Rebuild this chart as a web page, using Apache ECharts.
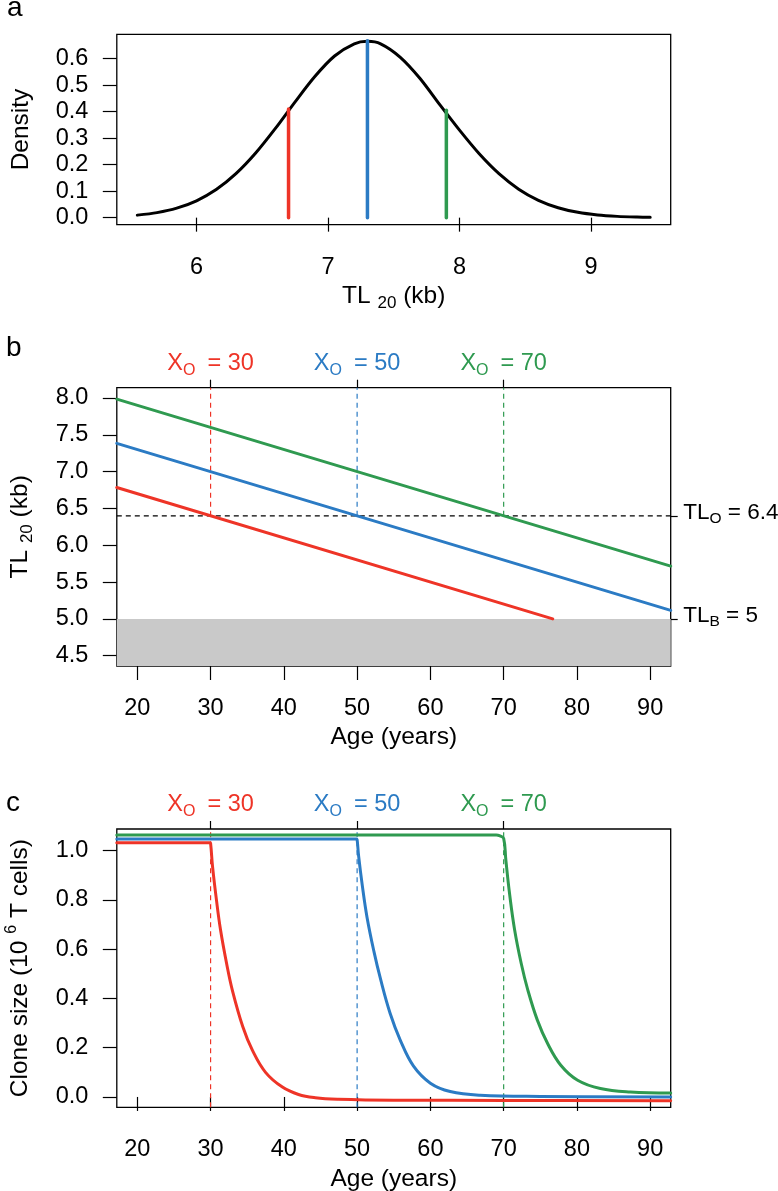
<!DOCTYPE html>
<html><head><meta charset="utf-8">
<script src="https://cdn.jsdelivr.net/npm/echarts@6/dist/echarts.min.js"></script>
<style>html,body{margin:0;padding:0;background:#fff}#c{width:778px;height:1191px}</style>
</head><body><div id="c"></div>
<script>
// ---------- data ----------
// panel a: density of TL20
const densityX = [5.55, 5.70, 5.85, 6.00, 6.15, 6.30, 6.45, 6.60, 6.75, 6.90, 7.05, 7.20, 7.30, 7.40, 7.55, 7.70, 7.85, 8.00, 8.15, 8.30, 8.45, 8.60, 8.75, 8.90, 9.05, 9.20, 9.35, 9.45];
const densityY = [0.0095, 0.0190, 0.0358, 0.0636, 0.1059, 0.1658, 0.2438, 0.3366, 0.4369, 0.5324, 0.6097, 0.6557, 0.6650, 0.6558, 0.6050, 0.5250, 0.4260, 0.3300, 0.2410, 0.1660, 0.1075, 0.0655, 0.0375, 0.0200, 0.0100, 0.0048, 0.0021, 0.0011];
const markerX = [6.7, 7.3, 7.9];
const markerTop = [0.41, 0.667, 0.405];
const densityXTicks = [6, 7, 8, 9];
const densityYTicks = [0, 0.1, 0.2, 0.3, 0.4, 0.5, 0.6];

// panel b: TL20 vs age
const tlRedAge = [17.2, 76.7];   const tlRed = [6.784, 5.0];
const tlBlueAge = [17.2, 92.8];  const tlBlue = [7.384, 5.116];
const tlGreenAge = [17.2, 92.8]; const tlGreen = [7.984, 5.716];
const onsetAges = [30, 50, 70];
const TLO = 6.4;
const TLB = 5;
const ageTicks = [20, 30, 40, 50, 60, 70, 80, 90];
const tlTicks = [4.5, 5.0, 5.5, 6.0, 6.5, 7.0, 7.5, 8.0];
const rightTickValues = [5, 6.4];
const rightTickSubs = ['B', 'O'];

// panel c: clone size vs age
const cloneRedAge  = [17.2, 29.9, 30.0, 30.27, 30.8, 31.35, 32.2, 33.0, 34.4, 35.7, 37.5, 39.8, 42.0, 44.3, 47.4, 55, 70, 92.8];
const cloneRed     = [1.032, 1.032, 1.030, 0.935, 0.800, 0.680, 0.540, 0.430, 0.285, 0.190, 0.100, 0.040, 0.010, -0.003, -0.009, -0.013, -0.014, -0.015];
const cloneBlueAge = [17.2, 49.9, 50.0, 50.2, 50.7, 51.35, 52.3, 53.2, 54.5, 55.9, 57.7, 60, 62.7, 66.8, 75, 92.8];
const cloneBlue    = [1.047, 1.047, 1.045, 0.980, 0.860, 0.730, 0.590, 0.478, 0.340, 0.230, 0.125, 0.056, 0.022, 0.007, 0.002, 0.000];
const cloneGreenAge = [17.2, 69.0, 69.5, 70.0, 70.3, 70.8, 71.5, 72.4, 73.3, 74.6, 76.0, 77.8, 80.1, 83.2, 87.3, 92.8];
const cloneGreen    = [1.064, 1.064, 1.060, 1.050, 0.962, 0.827, 0.678, 0.542, 0.434, 0.312, 0.217, 0.129, 0.068, 0.034, 0.020, 0.016];
const cloneTicks = [0, 0.2, 0.4, 0.6, 0.8, 1.0];

// ---------- styling ----------
const FONT = "'Liberation Sans', Arial, Helvetica, sans-serif";
const RED = '#ee3427', BLUE = '#2b7bc4', GREEN = '#2f9a50';
const COLS = [RED, BLUE, GREEN];
const KEYS = ['r', 'b', 'g'];
const TICKFS = 23.5, TITLEFS = 24.5;

// axis ranges (R style 4% extension)
const dMin = 5.394, dMax = 9.606, dyMin = -0.0266, dyMax = 0.6916;
const ageMin = 17.2, ageMax = 92.8;
const tlMin = 4.36, tlMax = 8.14;
const cMin = -0.042, cMax = 1.088;

const L = 116.8, W = 553.9;
const TICK = {color: '#000', width: 1.2};

const richTitle = {
  m: {fontSize: TITLEFS, lineHeight: 32, verticalAlign: 'middle', fontFamily: FONT, color: '#000'},
  s: {fontSize: 17, lineHeight: 17, verticalAlign: 'bottom', fontFamily: FONT, color: '#000'},
  p: {fontSize: 16, lineHeight: 16, verticalAlign: 'top', fontFamily: FONT, color: '#000'}
};
const nameStyle = {fontSize: TITLEFS, lineHeight: 32, color: '#000', fontFamily: FONT, rich: richTitle};

const richTop = {};
KEYS.forEach((k, i) => {
  richTop[k] = {color: COLS[i], fontSize: 23.5, lineHeight: 30, verticalAlign: 'middle', fontFamily: FONT};
  richTop[k + 's'] = {color: COLS[i], fontSize: 16, lineHeight: 16, verticalAlign: 'bottom', fontFamily: FONT, padding: [0, 12, 0, 0]};
});
const richRight = {
  m: {color: '#000', fontSize: 22.5, lineHeight: 28, verticalAlign: 'middle', fontFamily: FONT},
  s: {color: '#000', fontSize: 15.5, lineHeight: 15.5, verticalAlign: 'bottom', fontFamily: FONT}
};

function bottomX(gi, min, max, ticks, name, gap) {
  return {
    gridIndex: gi, type: 'value', min: min, max: max, position: 'bottom',
    axisLine: {show: false}, splitLine: {show: false},
    axisTick: {show: true, length: 14, lineStyle: TICK, customValues: ticks},
    axisLabel: {customValues: ticks, margin: 30.5, fontSize: TICKFS, color: '#000', fontFamily: FONT, formatter: v => String(v)},
    name: name, nameLocation: 'middle', nameGap: gap, nameTextStyle: nameStyle
  };
}
function topX(gi) {
  return {
    gridIndex: gi, type: 'value', min: ageMin, max: ageMax, position: 'top',
    axisLine: {show: false}, splitLine: {show: false},
    axisTick: {show: true, length: 8, lineStyle: TICK, customValues: onsetAges},
    axisLabel: {customValues: onsetAges, margin: 9, fontFamily: FONT, rich: richTop,
      formatter: v => { const k = KEYS[onsetAges.indexOf(v)]; return '{' + k + '|X}{' + k + 's|O}{' + k + '|= ' + v + '}'; }}
  };
}
function leftY(gi, min, max, ticks, name, gap) {
  return {
    gridIndex: gi, type: 'value', min: min, max: max, position: 'left',
    axisLine: {show: false}, splitLine: {show: false},
    axisTick: {show: true, length: 14, lineStyle: TICK, customValues: ticks},
    axisLabel: {customValues: ticks, margin: 28.5, fontSize: TICKFS, color: '#000', fontFamily: FONT, formatter: v => v.toFixed(1)},
    name: name, nameLocation: 'middle', nameRotate: 90, nameGap: gap, nameTextStyle: nameStyle
  };
}
function pts(xs, ys) { return xs.map((x, i) => [x, ys[i]]); }
function line(xi, yi, data, color, width, extra) {
  return Object.assign({
    type: 'line', xAxisIndex: xi, yAxisIndex: yi, data: data, symbol: 'none', showSymbol: false,
    lineStyle: {color: color, width: width, cap: 'round', join: 'round'}, silent: true, z: 3
  }, extra || {});
}
function dashed(xi, yi, data, color) {
  return {
    type: 'line', xAxisIndex: xi, yAxisIndex: yi, data: data, symbol: 'none', showSymbol: false, silent: true, z: 2,
    lineStyle: {color: color, width: 1.2, type: [5, 4]}
  };
}

const series = [];
// panel a
series.push(line(0, 0, pts(densityX, densityY), '#000', 3, {smooth: 0.3}));
markerX.forEach((x, i) => series.push(line(0, 0, [[x, 0], [x, markerTop[i]]], COLS[i], 3.5)));
// panel b
series.push({
  type: 'line', xAxisIndex: 1, yAxisIndex: 1, data: [], silent: true, z: 1,
  markArea: {silent: true, itemStyle: {color: '#c9c9c9'}, data: [[{yAxis: tlMin}, {yAxis: TLB}]]}
});
series.push(dashed(1, 1, [[ageMin, TLO], [ageMax, TLO]], '#000'));
onsetAges.forEach((a, i) => series.push(dashed(1, 1, [[a, TLO], [a, tlMax]], COLS[i])));
series.push(line(1, 1, pts(tlRedAge, tlRed), RED, 3));
series.push(line(1, 1, pts(tlBlueAge, tlBlue), BLUE, 3));
series.push(line(1, 1, pts(tlGreenAge, tlGreen), GREEN, 3));
// panel c
onsetAges.forEach((a, i) => series.push(dashed(3, 3, [[a, cMin], [a, cMax]], COLS[i])));
series.push(line(3, 3, pts(cloneGreenAge, cloneGreen), GREEN, 3, {smooth: 0.4}));
series.push(line(3, 3, pts(cloneBlueAge, cloneBlue), BLUE, 3, {smooth: 0.4}));
series.push(line(3, 3, pts(cloneRedAge, cloneRed), RED, 3, {smooth: 0.4}));

const gridBase = {show: true, borderColor: '#000', borderWidth: 1.3, backgroundColor: 'transparent', containLabel: false, outerBoundsMode: 'none'};

const option = {
  animation: false,
  backgroundColor: '#fff',
  grid: [
    Object.assign({left: L, top: 34.3, width: W, height: 190.4}, gridBase),
    Object.assign({left: L, top: 387.7, width: W, height: 278.3}, gridBase),
    Object.assign({left: L, top: 829, width: W, height: 278.3}, gridBase)
  ],
  xAxis: [
    bottomX(0, dMin, dMax, densityXTicks, '{m|TL }{s|20}{m| (kb)}', 50),
    bottomX(1, ageMin, ageMax, ageTicks, '{m|Age (years)}', 55.5),
    topX(1),
    bottomX(2, ageMin, ageMax, ageTicks, '{m|Age (years)}', 55.5),
    topX(2)
  ],
  yAxis: [
    leftY(0, dyMin, dyMax, densityYTicks, '{m|Density}', 80),
    leftY(1, tlMin, tlMax, tlTicks, '{m|TL }{s|20}{m| (kb)}', 81),
    {
      gridIndex: 1, type: 'value', min: tlMin, max: tlMax, position: 'right',
      axisLine: {show: false}, splitLine: {show: false},
      axisTick: {show: true, length: 7, lineStyle: TICK, customValues: rightTickValues},
      axisLabel: {customValues: rightTickValues, margin: 12.5, fontFamily: FONT, rich: richRight, padding: [0, 0, 7, 0],
        formatter: v => '{m|TL}{s|' + rightTickSubs[rightTickValues.indexOf(v)] + '}{m| = ' + v + '}'}
    },
    leftY(2, cMin, cMax, cloneTicks, '{m|Clone size (10 }{p|6}{m| T cells)}', 81)
  ],
  graphic: [
    {type: 'text', x: 7, y: 8.3, silent: true, style: {text: 'a', fontSize: 28, fontFamily: FONT, fill: '#000', verticalAlign: 'middle'}},
    {type: 'text', x: 6, y: 348.6, silent: true, style: {text: 'b', fontSize: 28, fontFamily: FONT, fill: '#000', verticalAlign: 'middle'}},
    {type: 'text', x: 6, y: 803.5, silent: true, style: {text: 'c', fontSize: 28, fontFamily: FONT, fill: '#000', verticalAlign: 'middle'}}
  ],
  series: series
};

const chart = echarts.init(document.getElementById('c'), null, {renderer: 'canvas'});
chart.setOption(option);
</script>
</body></html>
